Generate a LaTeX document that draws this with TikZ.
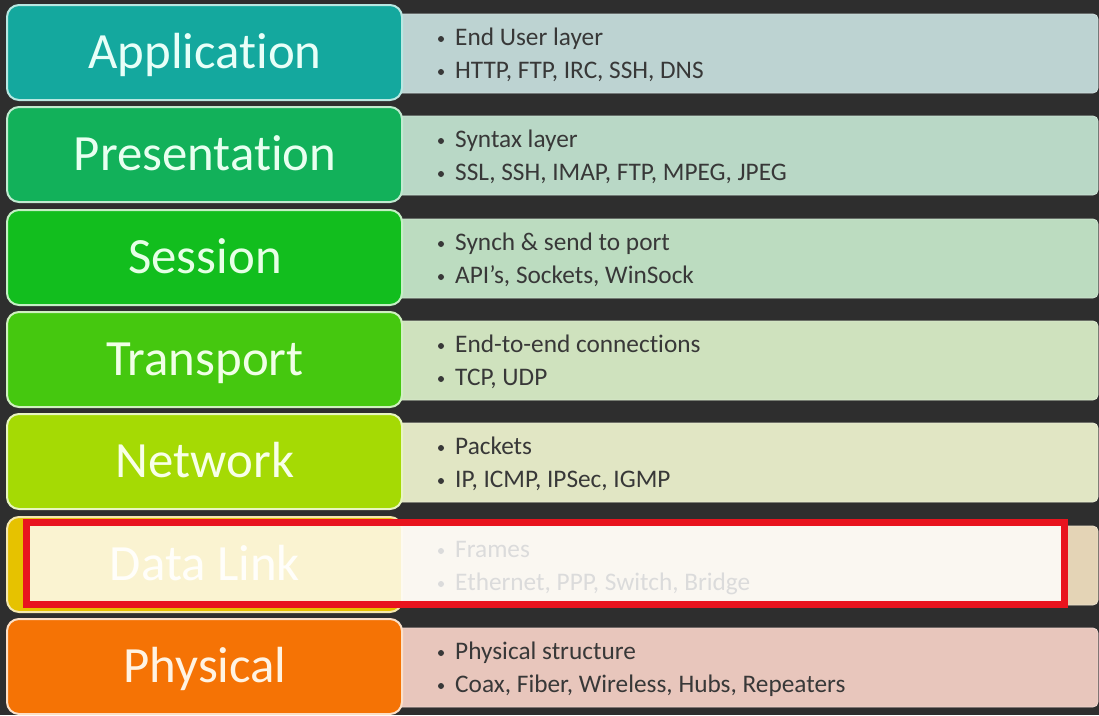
\documentclass[tikz,border=0pt]{standalone}
\usepackage{fontspec}
\setmainfont{Carlito}[Ligatures=CommonOff]
\definecolor{bg}{HTML}{2E2E2E}
\definecolor{itemtext}{HTML}{383838}
\definecolor{redbox}{HTML}{E8141E}
\definecolor{appL}{HTML}{14A89E}\definecolor{appB}{HTML}{B8E8E2}\definecolor{appT}{HTML}{E8FFF8}\definecolor{appR}{HTML}{BDD3D2}
\definecolor{preL}{HTML}{12B15A}\definecolor{preB}{HTML}{C0EBD0}\definecolor{preT}{HTML}{E8FFF0}\definecolor{preR}{HTML}{B9D8C6}
\definecolor{sesL}{HTML}{12BE1E}\definecolor{sesB}{HTML}{C4F0C4}\definecolor{sesT}{HTML}{E6FFE6}\definecolor{sesR}{HTML}{BCDCC0}
\definecolor{traL}{HTML}{45C80F}\definecolor{traB}{HTML}{D0F0C0}\definecolor{traT}{HTML}{F0FFE6}\definecolor{traR}{HTML}{CFE2BE}
\definecolor{netL}{HTML}{A5DA04}\definecolor{netB}{HTML}{E8F5C0}\definecolor{netT}{HTML}{F8FFE8}\definecolor{netR}{HTML}{E1E6C4}
\definecolor{dlkL}{HTML}{E6C200}\definecolor{dlkB}{HTML}{F5E8B0}\definecolor{dlkT}{HTML}{FFFBE8}\definecolor{dlkR}{HTML}{E4D4B6}
\definecolor{phyL}{HTML}{F57305}\definecolor{phyB}{HTML}{FCE0C8}\definecolor{phyT}{HTML}{FFF3E3}\definecolor{phyR}{HTML}{E8C6BC}
% #1 name, #2 top, #3 colour prefix, #4 label, #5 first line, #6 second line
\newcommand\osirow[6]{%
  \path[rightbox, fill=#3R, draw=#3R!70!white] (395,#2+9) rectangle (1098,#2+88);
  \path[leftbox, fill=#3L, draw=#3B] (7,#2) rectangle (402,#2+95);
  \node[lbl, text=#3T] (#1) at (205,#2+63) {#4};
  \node[dot] (#1d1) at (441,#2+34) {};
  \node[item] (#1a) at (455,#2+40) {#5};
  \node[dot] (#1d2) at (441,#2+67) {};
  \node[item] (#1b) at (455,#2+73) {#6};
}
\begin{document}
\begin{tikzpicture}[x=1pt,y=-1pt,
  leftbox/.style={rounded corners=12pt, line width=2pt},
  rightbox/.style={rounded corners=5pt, line width=0.8pt},
  lbl/.style={anchor=base, font=\fontsize{50.8}{60}\selectfont, inner sep=0pt},
  item/.style={anchor=base west, font=\fontsize{25.3}{30}\selectfont, inner sep=0pt, text=itemtext},
  dot/.style={circle, fill=itemtext, inner sep=0pt, minimum size=6pt}]
\path[use as bounding box, fill=bg] (0,0) rectangle (1099,715);
\osirow{app}{5}{app}{Application}{End User layer}{HTTP, FTP, IRC, SSH, DNS}
\osirow{pre}{107}{pre}{Presentation}{Syntax layer}{SSL, SSH, IMAP, FTP, MPEG, JPEG}
\osirow{ses}{210}{ses}{Session}{Synch \& send to port}{API’s, Sockets, WinSock}
\osirow{tra}{312}{tra}{Transport}{End-to-end connections}{TCP, UDP}
\osirow{net}{414}{net}{Network}{Packets}{IP, ICMP, IPSec, IGMP}
\osirow{dlk}{517}{dlk}{Data Link}{Frames}{Ethernet, PPP, Switch, Bridge}
\osirow{phy}{619}{phy}{Physical}{Physical structure}{Coax, Fiber, Wireless, Hubs, Repeaters}
\draw[draw=redbox, line width=7pt, fill=white, fill opacity=0.82] (26.5,522.5) rectangle (1064.5,604.5);
\end{tikzpicture}
\end{document}
